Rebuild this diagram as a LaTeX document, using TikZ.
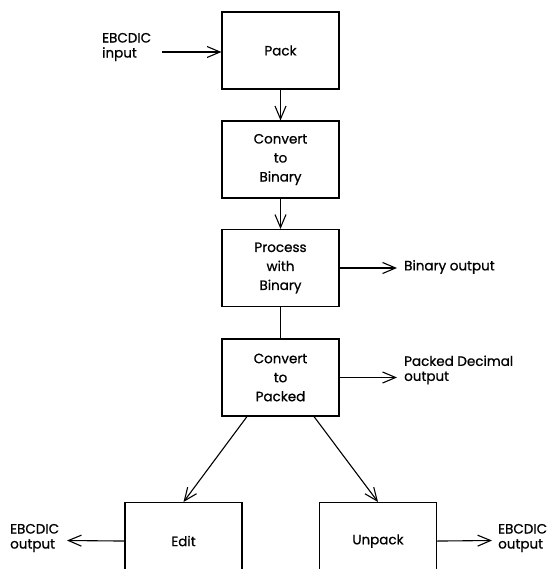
\documentclass[tikz,border=0pt]{standalone}
\usepackage{fontspec}
\newfontfamily\diafont{Poppins}[FakeBold=0.8]
\usetikzlibrary{arrows.meta}

\begin{document}
\begin{tikzpicture}[x=1pt,y=-1pt,
  box/.style={draw,line width=1.1pt,minimum width=117pt,minimum height=77pt,
              align=center,inner sep=0pt,font=\diafont\fontsize{13.5}{19}\selectfont},
  lbl/.style={align=left,inner sep=0pt,anchor=west,font=\diafont\fontsize{13.5}{19}\selectfont},
  flow/.style={line width=1.1pt,-{Straight Barb[length=13pt,width=11pt,line width=1.1pt]}}]
\useasboundingbox (0,0) rectangle (553,569);
\clip (0,0) rectangle (553,569);
% main column
\node[box] (pack) at (280.5,50.5) {Pack};
\node[box] (tobin) at (280.5,159.5) {Convert\\to\\Binary};
\node[box] (proc) at (280.5,268) {Process\\with\\Binary};
\node[box] (topk) at (280.5,377.5) {Convert\\to\\Packed};
% lower boxes, cut off at the bottom
\node[box,anchor=north] (edit) at (183.5,502) {Edit};
\node[box,anchor=north] (unpk) at (378,502) {Unpack};
% texts
\node[lbl] (ein) at (102,47) {EBCDIC\\[-4pt]input};
\node[lbl] (bout) at (404,267) {Binary output};
\node[lbl] (pout) at (404,370) {Packed Decimal\\[-4pt]output};
\node[lbl] (eoutl) at (10,538) {EBCDIC\\[-4pt]output};
\node[lbl] (eoutr) at (498,538) {EBCDIC\\[-4pt]output};
\coordinate (einend) at (162,52);
\coordinate (boutend) at (397,268);
\coordinate (poutend) at (397,377.5);
\coordinate (eoutlend) at (67,540.5);
\coordinate (eoutrend) at (492,540.5);
% connectors
\draw[flow] (einend) -- (pack.west |- einend);
\draw[flow] (pack) -- (tobin);
\draw[flow] (tobin) -- (proc);
\draw[line width=1.1pt] (proc) -- (topk);
\draw[flow] (proc.east) -- (boutend);
\draw[flow] (topk.east) -- (poutend);
\draw[flow] ([xshift=-33.5pt]topk.south) -- (edit.north);
\draw[flow] ([xshift=33.5pt]topk.south) -- (unpk.north);
\draw[flow] (edit.west) -- (eoutlend);
\draw[flow] (unpk.east) -- (eoutrend);
\end{tikzpicture}
\end{document}
